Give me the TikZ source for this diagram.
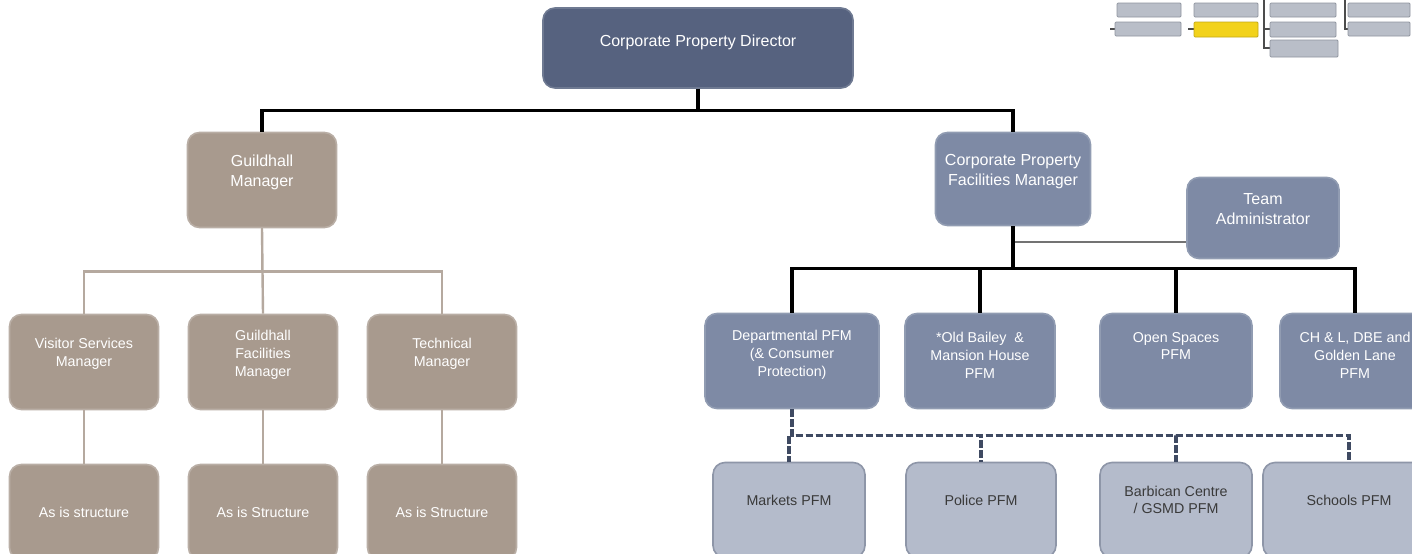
\documentclass[tikz,border=0pt]{standalone}
\usepackage{fontspec}
\setmainfont{Liberation Sans}
\definecolor{dirc}{HTML}{56627F}
\definecolor{taupe}{HTML}{A89A8E}
\definecolor{slate}{HTML}{7E8AA5}
\definecolor{lightb}{HTML}{B4BBCB}
\definecolor{lightbd}{HTML}{8E96A8}
\definecolor{tline}{HTML}{B5A99F}
\definecolor{dline}{HTML}{3F4A62}
\definecolor{thumbg}{HTML}{B9BEC8}
\definecolor{thumbbd}{HTML}{8F959F}
\definecolor{thumby}{HTML}{F2D21B}
\definecolor{dtext}{HTML}{3A3A3A}
\tikzset{
  boxbase/.style={rectangle, rounded corners=9pt, inner sep=0pt, line width=1.2pt},
  dirbox/.style={boxbase, fill=dirc, draw=dirc!85!white},
  tbox/.style={boxbase, fill=taupe, draw=taupe!80!white, minimum width=111.75pt, minimum height=71.25pt},
  sbox/.style={boxbase, fill=slate, draw=slate!85!white, minimum height=71.25pt},
  lbox/.style={boxbase, fill=lightb, draw=lightbd, minimum height=71.25pt},
  bigtxt/.style={text=white, font=\fontsize{12}{15}\selectfont, align=center, inner sep=0pt},
  smtxt/.style={text=white, font=\fontsize{10.7}{13.4}\selectfont, align=center, inner sep=0pt},
  darktxt/.style={text=dtext, font=\fontsize{10.7}{12.5}\selectfont, align=center, inner sep=0pt},
  blkline/.style={draw=black, line width=2.3pt},
  tauline/.style={draw=tline, line width=1.8pt},
  teamline/.style={draw=black!55, line width=1.5pt},
  dashline/.style={draw=dline, line width=2.5pt, dash pattern=on 5.5pt off 2pt},
  thumb/.style={fill=thumbg, draw=thumbbd, line width=0.6pt, rounded corners=0.8pt},
  thumbline/.style={draw=black!70, line width=0.9pt}
}
\begin{document}
\begin{tikzpicture}[x=0.75pt,y=-0.75pt]
\useasboundingbox (0,0) rectangle (1412,553);
\clip (0,0) rectangle (1412,553);
\fill[white] (0,0) rectangle (1412,553);

% top level
\node[dirbox, minimum width=232.5pt, minimum height=60pt] (dir) at (698,48) {};
\node[bigtxt] (dirt) at (698,42) {Corporate Property Director};

% left branch
\node[tbox] (gm) at (262,180) {};
\node[bigtxt] (gmt) at (262,172.5) {Guildhall\\Manager};

\node[tbox] (vis) at (84,362) {};
\node[smtxt] (vist) at (84,353.5) {Visitor Services\\Manager};
\node[tbox] (gfm) at (263,362) {};
\node[smtxt] (gfmt) at (263,355) {Guildhall\\Facilities\\Manager};
\node[tbox] (tech) at (442,362) {};
\node[smtxt] (techt) at (442,353.5) {Technical\\Manager};

\node[tbox] (as1) at (84,512) {};
\node[smtxt] (as1t) at (84,512) {As is structure};
\node[tbox] (as2) at (263,512) {};
\node[smtxt] (as2t) at (263,512) {As is Structure};
\node[tbox] (as3) at (442,512) {};
\node[smtxt] (as3t) at (442,512) {As is Structure};

% right branch
\node[sbox, minimum width=116.25pt, minimum height=69.75pt] (cpfm) at (1013,179) {};
\node[bigtxt] (cpfmt) at (1013,172) {Corporate Property\\Facilities Manager};
\node[sbox, minimum width=114pt, minimum height=60.75pt] (team) at (1263,218) {};
\node[bigtxt] (teamt) at (1263,209) {Team\\Administrator};

\node[sbox, minimum width=130.5pt] (dept) at (792,361) {};
\node[smtxt] (deptt) at (792,355) {Departmental PFM\\(\& Consumer\\Protection)};
\node[sbox, minimum width=112.5pt] (ob) at (980,361) {};
\node[smtxt] (obt) at (980,355) {*Old Bailey \ \&\\Mansion House\\PFM};
\node[sbox, minimum width=114pt] (os) at (1176,361) {};
\node[smtxt] (ost) at (1176,346) {Open Spaces\\PFM};
\node[sbox, minimum width=112.5pt] (chl) at (1355,361) {};
\node[smtxt] (chlt) at (1355,355) {CH \& L, DBE and\\Golden Lane\\PFM};

\node[lbox, minimum width=114pt] (mk) at (789,510) {};
\node[darktxt] (mkt) at (789,500) {Markets PFM};
\node[lbox, minimum width=112.5pt] (pol) at (981,510) {};
\node[darktxt] (polt) at (981,500) {Police PFM};
\node[lbox, minimum width=114pt] (bar) at (1176,510) {};
\node[darktxt] (bart) at (1176,500) {Barbican Centre\\/ GSMD PFM};
\node[lbox, minimum width=129pt] (sch) at (1349,510) {};
\node[darktxt] (scht) at (1349,500) {Schools PFM};

% connectors
\draw[blkline] (dir.south) -- ++(0,22) -| (gm.north);
\draw[blkline] (dir.south) -- ++(0,22) -| (cpfm.north);

\draw[tauline] (gm.south) -- ++(0,43) -| (vis.north);
\draw[tauline] (gm.south) -- ++(0,43) -| (tech.north);
\draw[tauline] (gm.south) -- (gfm.north);
\draw[tauline] (vis.south) -- (as1.north);
\draw[tauline] (gfm.south) -- (as2.north);
\draw[tauline] (tech.south) -- (as3.north);

\coordinate (tj) at (1013,242);
\draw[teamline] (team.west |- tj) -- (tj);

\draw[blkline] (cpfm.south) -- ++(0,42.5) -| (dept.north);
\draw[blkline] (cpfm.south) -- ++(0,42.5) -| (ob.north);
\draw[blkline] (cpfm.south) -- ++(0,42.5) -| (os.north);
\draw[blkline] (cpfm.south) -- ++(0,42.5) -| (chl.north);

\draw[dashline] (dept.south) -- ++(0,26.5) -| (mk.north);
\draw[dashline] (dept.south) -- ++(0,26.5) -| (pol.north);
\draw[dashline] (dept.south) -- ++(0,26.5) -| (bar.north);
\draw[dashline] (dept.south) -- ++(0,26.5) -| (sch.north);

% top-right thumbnail
\draw[thumbline] (1264,0) -- (1264,49);
\draw[thumbline] (1264,29) -- (1270,29);
\draw[thumbline] (1264,48) -- (1270,48);
\draw[thumbline] (1345,0) -- (1345,29) -- (1348,29);
\draw[thumbline] (1110,29) -- (1115,29);
\draw[thumbline] (1188,29) -- (1194,29);
\draw[thumb] (1117,3) rectangle (1181,17);
\draw[thumb] (1115,22) rectangle (1181,36);
\draw[thumb] (1194,3) rectangle (1258,17);
\draw[thumb, fill=thumby, draw=thumby!80!black] (1194,22) rectangle (1258,37);
\draw[thumb] (1270,3) rectangle (1336,17);
\draw[thumb] (1270,22) rectangle (1336,37);
\draw[thumb] (1270,40) rectangle (1338,57);
\draw[thumb] (1348,3) rectangle (1410,17);
\draw[thumb] (1348,22) rectangle (1410,36);
\end{tikzpicture}
\end{document}
